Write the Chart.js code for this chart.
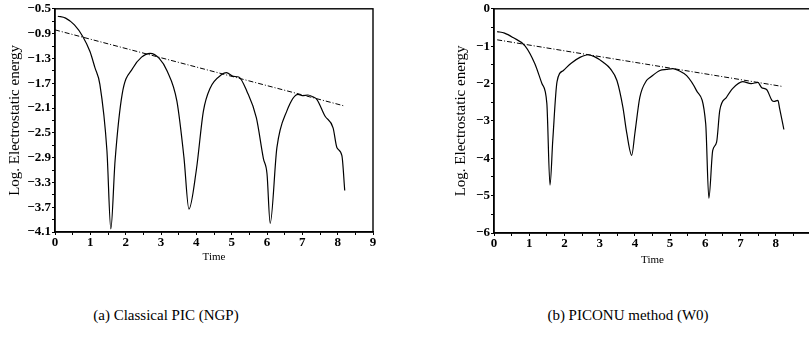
<!DOCTYPE html>
<html>
<head>
<meta charset="utf-8">
<script src="https://cdn.jsdelivr.net/npm/chart.js@4"></script>
<style>
    html, body { margin: 0; padding: 0; background: #fff; }
    body { width: 809px; height: 343px; overflow: hidden; position: relative; }
    .panel { position: absolute; top: 0; }
    .caption {
        position: absolute; top: 307px; font-family: 'Liberation Serif', 'DejaVu Serif', 'Times New Roman', Times, serif;
        font-size: 15px; color: #000; white-space: nowrap; transform: translateX(-50%);
    }
</style>
</head>
<body>
<div class="panel" style="left:0px"><canvas id="ngpChart" width="400" height="280"></canvas></div>
<div class="panel" style="left:400px"><canvas id="w0Chart" width="420" height="280"></canvas></div>
<div class="caption" style="left:166px">(a) Classical PIC (NGP)</div>
<div class="caption" style="left:628px">(b) PICONU method (W0)</div>
<script>
// (a) Classical PIC (NGP)
const ngpTime = [0.08, 0.3, 0.55, 0.79, 0.99, 1.13, 1.27, 1.47, 1.58, 1.7, 1.9, 2.2, 2.45, 2.69, 2.95, 3.17, 3.45, 3.65, 3.79, 4.0, 4.2, 4.39, 4.72, 4.85, 5.05, 5.2, 5.43, 5.7, 5.9, 6.0, 6.09, 6.28, 6.56, 6.88, 7.0, 7.16, 7.3, 7.41, 7.64, 7.87, 7.98, 8.12, 8.2];
const ngpEnergy = [-0.62, -0.65, -0.76, -0.95, -1.19, -1.45, -1.72, -2.79, -4.05, -2.95, -1.88, -1.46, -1.28, -1.22, -1.3, -1.5, -1.99, -2.9, -3.73, -3.1, -2.15, -1.78, -1.56, -1.53, -1.59, -1.6, -1.83, -2.26, -2.92, -3.16, -3.96, -2.74, -2.15, -1.88, -1.9, -1.89, -1.92, -1.96, -2.23, -2.42, -2.74, -2.87, -3.43];
const ngpFitTime = [0, 8.21];
const ngpFitEnergy = [-0.84, -2.07];

// (b) PICONU method (W0)
const w0Time = [0.09, 0.3, 0.54, 0.88, 1.16, 1.36, 1.5, 1.59, 1.67, 1.79, 1.97, 2.2, 2.44, 2.67, 2.85, 3.1, 3.3, 3.49, 3.66, 3.77, 3.91, 4.0, 4.14, 4.33, 4.43, 4.71, 4.9, 5.08, 5.25, 5.47, 5.75, 6.01, 6.1, 6.21, 6.32, 6.41, 6.6, 6.78, 7.06, 7.3, 7.49, 7.6, 7.74, 7.89, 7.95, 8.06, 8.11, 8.23];
const w0Energy = [-0.61, -0.65, -0.77, -0.99, -1.47, -2.0, -2.53, -4.72, -3.5, -1.95, -1.65, -1.45, -1.3, -1.23, -1.28, -1.43, -1.6, -1.92, -2.64, -3.33, -3.92, -3.33, -2.37, -1.92, -1.84, -1.65, -1.62, -1.6, -1.66, -1.79, -2.19, -3.07, -5.07, -3.79, -3.57, -2.72, -2.37, -2.13, -1.95, -2.0, -1.97, -2.11, -2.16, -2.45, -2.48, -2.45, -2.67, -3.23];
const w0FitTime = [0.09, 8.2];
const w0FitEnergy = [-0.83, -2.08];

// tick labels
const timeTicks = [0, 1, 2, 3, 4, 5, 6, 7, 8, 9];
const ngpEnergyTicks = [-0.5, -0.9, -1.3, -1.7, -2.1, -2.5, -2.9, -3.3, -3.7, -4.1];
const w0EnergyTicks = [0, -1, -2, -3, -4, -5, -6];

const serif = "'Liberation Serif', 'DejaVu Serif', 'Times New Roman', Times, serif";

function toPoints(xs, ys) {
    return xs.map((x, i) => ({ x: x, y: ys[i] }));
}

function withMinors(major, step) {
    const out = [];
    const lo = Math.min(...major), hi = Math.max(...major);
    for (let v = lo; v <= hi + 1e-9; v += step) out.push(Math.round(v * 1000) / 1000);
    return out;
}

function isMajor(list, v) {
    return list.some(m => Math.abs(m - v) < 1e-6);
}

function fmt(v, digits) {
    const s = Math.abs(v).toFixed(digits);
    return v < -1e-9 ? '\u2212' + s : s;
}

// draws the closed frame round the plot area
const framePlugin = {
    id: 'frame',
    afterDraw(chart) {
        const a = chart.chartArea;
        const ctx = chart.ctx;
        ctx.save();
        ctx.strokeStyle = '#000';
        ctx.lineWidth = 1.4;
        ctx.strokeRect(a.left, a.top, a.right - a.left, a.bottom - a.top);
        ctx.restore();
    }
};

function makeChart(id, cfg) {
    const yAll = withMinors(cfg.yTicks, cfg.yMinorStep);
    const xAll = withMinors(timeTicks, 0.5);
    return new Chart(document.getElementById(id), {
        type: 'line',
        data: {
            datasets: [{
                data: toPoints(cfg.time, cfg.energy),
                borderColor: '#000',
                borderWidth: 1.2,
                pointRadius: 0,
                cubicInterpolationMode: 'monotone'
            }, {
                data: toPoints(cfg.fitTime, cfg.fitEnergy),
                borderColor: '#000',
                borderWidth: 1,
                borderDash: [5, 2, 1, 2],
                pointRadius: 0,
                tension: 0
            }]
        },
        options: {
            responsive: false,
            animation: false,
            layout: { padding: cfg.padding },
            plugins: { legend: { display: false }, tooltip: { enabled: false } },
            scales: {
                x: {
                    type: 'linear',
                    min: 0,
                    max: 9,
                    afterBuildTicks: s => { s.ticks = xAll.map(v => ({ value: v })); },
                    afterFit: s => { s.height = 34; },
                    border: { color: '#000', width: 1.4 },
                    grid: { drawOnChartArea: false, color: '#000', tickLength: 3 },
                    ticks: {
                        autoSkip: false,
                        maxRotation: 0,
                        padding: 0,
                        color: '#000',
                        font: { family: serif, size: 13, weight: 'bold' },
                        callback: v => (isMajor(timeTicks, v) && v <= cfg.lastTimeLabel) ? String(v) : ''
                    },
                    title: {
                        display: true,
                        text: 'Time',
                        color: '#000',
                        padding: { top: 0, bottom: cfg.timePad },
                        font: { family: serif, size: 11 }
                    }
                },
                y: {
                    type: 'linear',
                    min: Math.min(...cfg.yTicks),
                    max: Math.max(...cfg.yTicks),
                    afterBuildTicks: s => { s.ticks = yAll.map(v => ({ value: v })); },
                    afterFit: s => { s.width = cfg.yWidth; },
                    border: { color: '#000', width: 1.4 },
                    grid: { drawOnChartArea: false, color: '#000', tickLength: 3 },
                    ticks: {
                        autoSkip: false,
                        padding: 1,
                        color: '#000',
                        font: { family: serif, size: 13, weight: 'bold' },
                        callback: v => isMajor(cfg.yTicks, v) ? fmt(v, cfg.yDigits) : ''
                    },
                    title: {
                        display: true,
                        text: 'Log. Electrostatic energy',
                        color: '#000',
                        padding: 3,
                        font: { family: serif, size: 15 }
                    }
                }
            }
        },
        plugins: [framePlugin]
    });
}

makeChart('ngpChart', {
    time: ngpTime, energy: ngpEnergy, fitTime: ngpFitTime, fitEnergy: ngpFitEnergy,
    yTicks: ngpEnergyTicks, yMinorStep: 0.2, yDigits: 1, lastTimeLabel: 9,
    padding: { left: 3, top: 7, right: 27, bottom: 14 },
    yWidth: 52, timePad: 2
});

makeChart('w0Chart', {
    time: w0Time, energy: w0Energy, fitTime: w0FitTime, fitEnergy: w0FitEnergy,
    yTicks: w0EnergyTicks, yMinorStep: 0.5, yDigits: 0, lastTimeLabel: 8,
    padding: { left: 49, top: 8, right: 9, bottom: 13 },
    yWidth: 45, timePad: 0
});
</script>
</body>
</html>
